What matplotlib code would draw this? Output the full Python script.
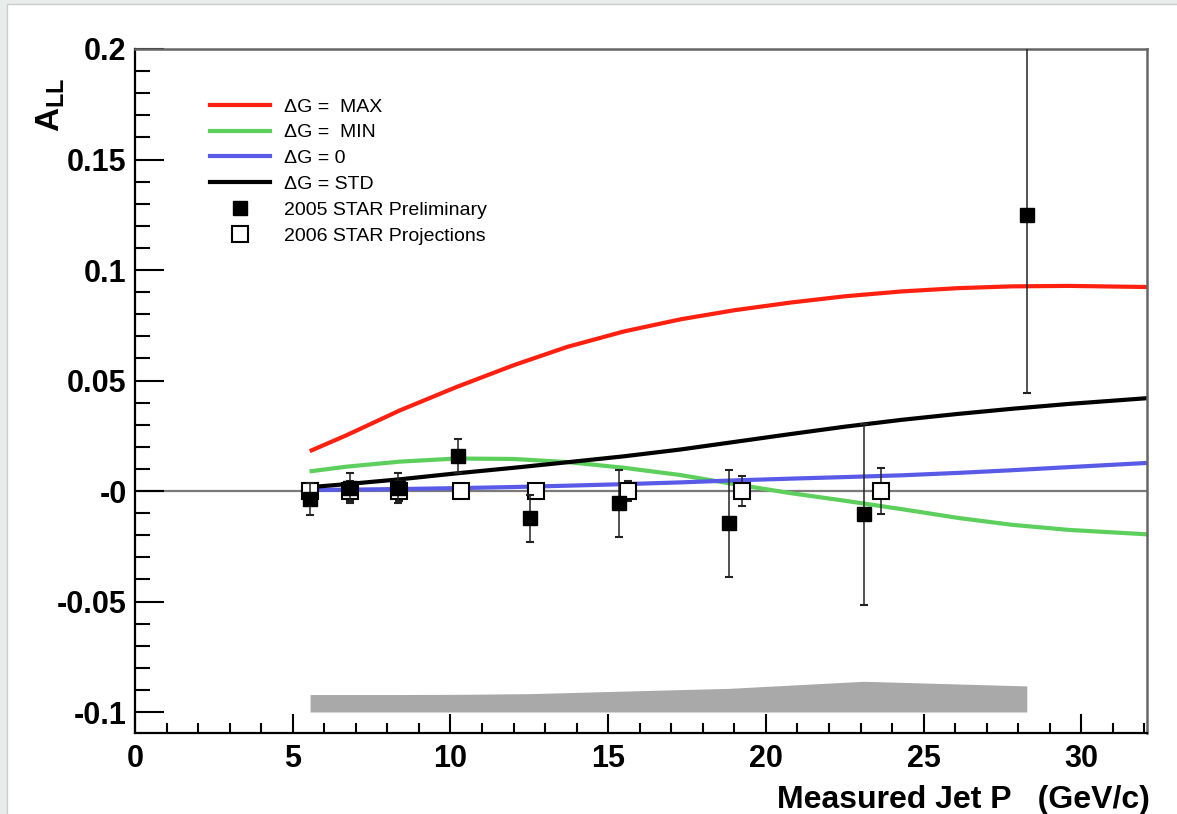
import matplotlib
matplotlib.use("Agg")
import matplotlib.pyplot as plt
from matplotlib.patches import Rectangle
from matplotlib.lines import Line2D
from matplotlib.ticker import FixedLocator, FixedFormatter, MultipleLocator

plt.rcParams['font.family'] = ['Liberation Sans', 'DejaVu Sans']
plt.rcParams['mathtext.fontset'] = 'custom'
plt.rcParams['mathtext.bf'] = 'Liberation Sans:bold'
plt.rcParams['mathtext.rm'] = 'Liberation Sans'

# Theory curves sampled in jet pT (GeV/c)
curve_pt = [5.6, 6.7, 8.4, 10.2, 12.0, 13.7, 15.5, 17.3, 19.0, 20.8, 22.5, 24.3, 26.1, 27.8, 29.6, 32.08]
all_max = [0.0184, 0.0252, 0.0365, 0.0471, 0.0569, 0.0652, 0.0722, 0.0777, 0.0818, 0.0853,
           0.0881, 0.0903, 0.0918, 0.0926, 0.0928, 0.0923]
all_min = [0.0090, 0.0110, 0.0133, 0.0147, 0.0145, 0.0131, 0.0105, 0.0072, 0.0031, -0.0010,
           -0.0044, -0.0082, -0.0122, -0.0153, -0.0176, -0.0196]
all_zero = [0.0005, 0.0006, 0.0009, 0.0013, 0.0018, 0.0024, 0.0031, 0.0039, 0.0048, 0.0056,
            0.0063, 0.0071, 0.0082, 0.0094, 0.0108, 0.0127]
all_std = [0.0018, 0.0031, 0.0053, 0.0080, 0.0105, 0.0130, 0.0157, 0.0188, 0.0222, 0.0258,
           0.0291, 0.0322, 0.0349, 0.0372, 0.0394, 0.0420]

# 2005 STAR preliminary A_LL with statistical and systematic uncertainties
prelim_pt = [5.55, 6.81, 8.34, 10.24, 12.52, 15.34, 18.83, 23.1, 28.27]
prelim_all = [-0.0036, 0.0015, 0.0015, 0.0157, -0.0124, -0.0056, -0.0147, -0.0106, 0.1247]
prelim_stat = [0.0074, 0.0068, 0.0068, 0.0077, 0.0105, 0.0150, 0.0240, 0.0410, 0.0805]
prelim_sys = [0.0079, 0.0079, 0.0079, 0.0080, 0.0083, 0.0094, 0.0107, 0.0139, 0.0118]

# 2006 STAR projected uncertainties
proj_pt = [5.55, 6.81, 8.37, 10.33, 12.71, 15.63, 19.23, 23.65]
proj_all = [0.0, 0.0, 0.0, 0.0, 0.0, 0.0, 0.0, 0.0]
proj_err = [0.0030, 0.0045, 0.0045, 0.0025, 0.0030, 0.0045, 0.0070, 0.0105]

y_ticks = [-0.1, -0.05, 0.0, 0.05, 0.1, 0.15, 0.2]
y_tick_labels = ['-0.1', '-0.05', '-0', '0.05', '0.1', '0.15', '0.2']
x_ticks = [0, 5, 10, 15, 20, 25, 30]
x_tick_labels = ['0', '5', '10', '15', '20', '25', '30']

W, H = 1177, 814
fig = plt.figure(figsize=(W / 100, H / 100), dpi=100, facecolor='#e8ecea')
fig.patches.append(Rectangle((7 / W, -0.01), 1.0, 1 - 4 / H + 0.01, transform=fig.transFigure,
                             facecolor='white', edgecolor='#c9cdcb', lw=1.0, zorder=-10))

ax = fig.add_axes([135 / W, 81 / H, 1012 / W, 684 / H])
ax.set_zorder(5)
ax.set_facecolor('white')
ax.set_xlim(0, 32.08)
ax.set_ylim(-0.1095, 0.2)

ax.axhline(0, color='#7a7a7a', lw=1.6, zorder=1)
ax.fill_between(prelim_pt, -0.1, [-0.1 + s for s in prelim_sys], color='#a9a9a9', lw=0, zorder=1)

ax.plot(curve_pt, all_max, color='#ff2010', lw=3.0, zorder=2)
ax.plot(curve_pt, all_min, color='#5ccf5c', lw=3.0, zorder=2)
ax.plot(curve_pt, all_zero, color='#5a5ae8', lw=3.0, zorder=2)
ax.plot(curve_pt, all_std, color='black', lw=3.0, zorder=2)

ax.errorbar(proj_pt, proj_all, yerr=proj_err, fmt='s', ms=11, mfc='white', mec='black', mew=1.5,
            ecolor='#222222', elinewidth=1.1, capsize=3, capthick=1.5, zorder=4)
ax.errorbar(prelim_pt, prelim_all, yerr=prelim_stat, fmt='s', ms=10.5, mfc='black', mec='black',
            ecolor='#222222', elinewidth=1.1, capsize=3, capthick=1.5, zorder=5)

# Axis styling
for side in ('left', 'bottom'):
    ax.spines[side].set_color('black')
    ax.spines[side].set_linewidth(1.6)
for side in ('top', 'right'):
    ax.spines[side].set_color('#666666')
    ax.spines[side].set_linewidth(1.8)

ax.yaxis.set_major_locator(FixedLocator(y_ticks))
ax.yaxis.set_major_formatter(FixedFormatter(y_tick_labels))
ax.yaxis.set_minor_locator(MultipleLocator(0.01))
ax.xaxis.set_major_locator(FixedLocator(x_ticks))
ax.xaxis.set_major_formatter(FixedFormatter(x_tick_labels))
ax.xaxis.set_minor_locator(MultipleLocator(1))

ax.tick_params(axis='y', which='major', direction='in', length=21, width=1.5, pad=6, labelsize=22)
ax.tick_params(axis='y', which='minor', direction='in', length=10.5, width=1.5)
ax.tick_params(axis='x', which='major', direction='in', length=14, width=1.5, pad=8, labelsize=22)
ax.tick_params(axis='x', which='minor', direction='in', length=7, width=1.5)
for lab in ax.get_xticklabels() + ax.get_yticklabels():
    lab.set_fontweight('bold')

fig.text(1150 / W, 1 - 808 / H, 'Measured Jet P   (GeV/c)', ha='right', va='baseline',
         fontsize=23, fontweight='bold')
fig.text(51 / W, 1 - 78 / H, r'$\mathbf{A_{LL}}$', rotation=90, ha='center', va='top', fontsize=24)

handles = [
    Line2D([], [], color='#ff2010', lw=3.0),
    Line2D([], [], color='#5ccf5c', lw=3.0),
    Line2D([], [], color='#5a5ae8', lw=3.0),
    Line2D([], [], color='black', lw=3.0),
    Line2D([], [], ls='none', marker='s', ms=10, mfc='black', mec='black'),
    Line2D([], [], ls='none', marker='s', ms=11, mfc='white', mec='black', mew=1.5),
]
labels = ['\u0394G =  MAX', '\u0394G =  MIN', '\u0394G = 0', '\u0394G = STD',
          '2005 STAR Preliminary', '2006 STAR Projections']
ax.legend(handles, labels, loc='upper left', bbox_to_anchor=(75 / 1012, 1 - 49 / 684),
          frameon=False, fontsize=14, handlelength=3.1, handletextpad=0.7, labelspacing=0.42,
          borderpad=0, borderaxespad=0, numpoints=1)

fig.savefig('out.png', dpi=100, facecolor=fig.get_facecolor())
